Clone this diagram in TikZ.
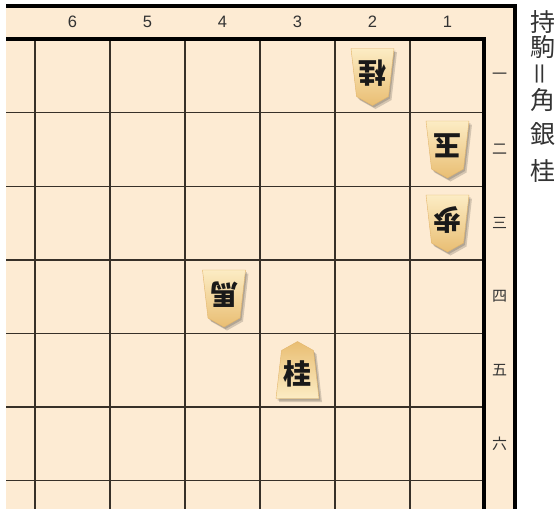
\documentclass[tikz,border=0pt]{standalone}
\usepackage{fontspec}
\newfontfamily\cjk{Noto Sans CJK JP}
\newfontfamily\numfont{Liberation Sans}
\usetikzlibrary{positioning}
\definecolor{BoardBg}{RGB}{253,235,211}
\definecolor{GridLine}{RGB}{55,48,40}
\definecolor{KomaTan}{RGB}{233,190,115}
\definecolor{KomaCream}{RGB}{252,236,196}
\definecolor{LabelText}{RGB}{51,51,51}

\newcommand{\komaoutline}{(0,-29) -- (16,-20) -- (21.5,28) -- (-21.5,28) -- (-16,-20) -- cycle}
% name, centre, character, turn (0 = sente, 180 = gote)
\newcommand{\koma}[4]{%
  \foreach \d in {1.5,3}
    \fill[komashadow, shift={(#2)}, shift={(\d,\d+0.5)}, rotate=#4] \komaoutline;
  \begin{scope}[shift={(#2)}, rotate=#4]
    \path[komabody, shading angle=#4] \komaoutline;
    \node[komachar, rotate=#4] (#1) at (0,3) {#3};
  \end{scope}}

\begin{document}
\begin{tikzpicture}[
        x=1pt, y=-1pt,
        gridline/.style={draw=GridLine, line width=1.4},
        frame/.style={draw=black, line width=3.2},
        colnum/.style={font=\numfont\fontsize{16.5}{16.5}\selectfont, text=LabelText, inner sep=0},
        rownum/.style={font=\cjk\fontsize{15}{15}\selectfont, text=LabelText, inner sep=0},
        mochi/.style={font=\cjk\fontsize{25}{25}\selectfont, text=LabelText, inner sep=0},
        komashadow/.style={fill=black, opacity=0.16},
        komabody/.style={top color=KomaTan, bottom color=KomaCream, draw=KomaTan!85!brown, line width=0.4},
        komachar/.style={font=\cjk\bfseries\fontsize{28}{28}\selectfont, text=black!90, inner sep=0}
    ]
        \useasboundingbox (0,0) rectangle (557,509);
        \fill[BoardBg] (6,6) rectangle (517,509);

        % grid
        \foreach \x in {35,110,...,410}
            \draw[gridline] (\x,39) -- (\x,509);
        \foreach \k in {1,...,6}
            \draw[gridline] (6,{39+73.6*\k}) -- (484,{39+73.6*\k});

        % frame
        \draw[frame] (6,6) -- (516.5,6);
        \draw[frame] (515,6) -- (515,509);
        \draw[frame] (6,39) -- (486,39);
        \draw[draw=black, line width=4] (484,37.4) -- (484,509);

        % file and rank labels
        \foreach \n [count=\i] in {6,5,4,3,2,1}
            \node[colnum] (col\n) at ({72.5+75*(\i-1)},22) {\n};
        \foreach \r [count=\i] in {一,二,三,四,五,六}
            \node[rownum] (row\i) at (499.5,{75.8+73.6*(\i-1)}) {\r};

        % pieces in hand
        \node[mochi] (hand1) at (543,22) {持};
        \node[mochi] (hand2) at (543,47) {駒};
        \node[mochi, rotate=90] (hand3) at (543,74) {＝};
        \node[mochi] (hand4) at (543,100) {角};
        \node[mochi] (hand5) at (543,134) {銀};
        \node[mochi] (hand6) at (543,171) {桂};

        % pieces on the board
        \koma{keiA}{372.5,76.5}{桂}{180}
        \koma{gyoku}{447.5,149}{玉}{180}
        \koma{fu}{447.5,223}{歩}{180}
        \koma{uma}{224,298}{馬}{180}
        \koma{keiB}{297.5,370.5}{桂}{0}
    \end{tikzpicture}
\end{document}
